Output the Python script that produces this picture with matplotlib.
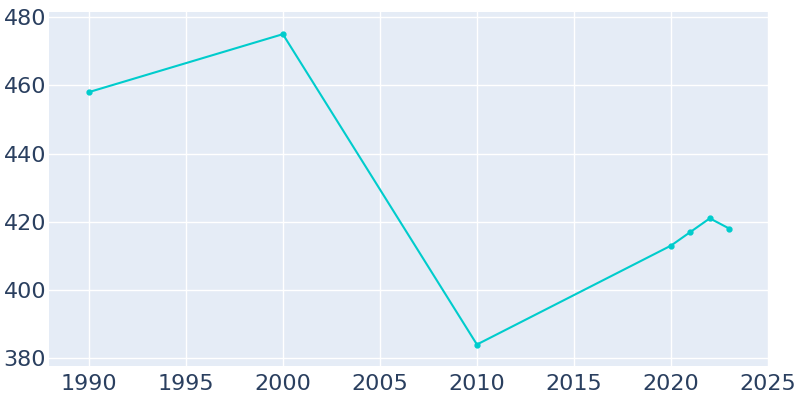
import matplotlib
matplotlib.use("Agg")
import matplotlib.pyplot as plt

years = [1990, 2000, 2010, 2020, 2021, 2022, 2023]
population = [458, 475, 384, 413, 417, 421, 418]

fig = plt.figure(figsize=(8, 4), dpi=100)
ax = fig.add_axes([49 / 800, 34 / 400, 720 / 800, 354 / 400])
ax.set_facecolor("#e5ecf6")
ax.plot(years, population, color="#00cccc", linewidth=1.5, marker="o", markersize=3.5, zorder=3)

ax.set_xlim(1987.95, 2025.05)
ax.set_ylim(377.7, 481.5)
ax.set_xticks(range(1990, 2030, 5))
ax.set_yticks(range(380, 481, 20))
ax.grid(True, color="white", linewidth=1)
ax.set_axisbelow(True)
for s in ax.spines.values():
    s.set_visible(False)
ax.tick_params(length=0, labelsize=16, colors="#2a3f5f")
ax.tick_params(axis="x", pad=6)
ax.tick_params(axis="y", pad=2)

fig.savefig("out.png")
